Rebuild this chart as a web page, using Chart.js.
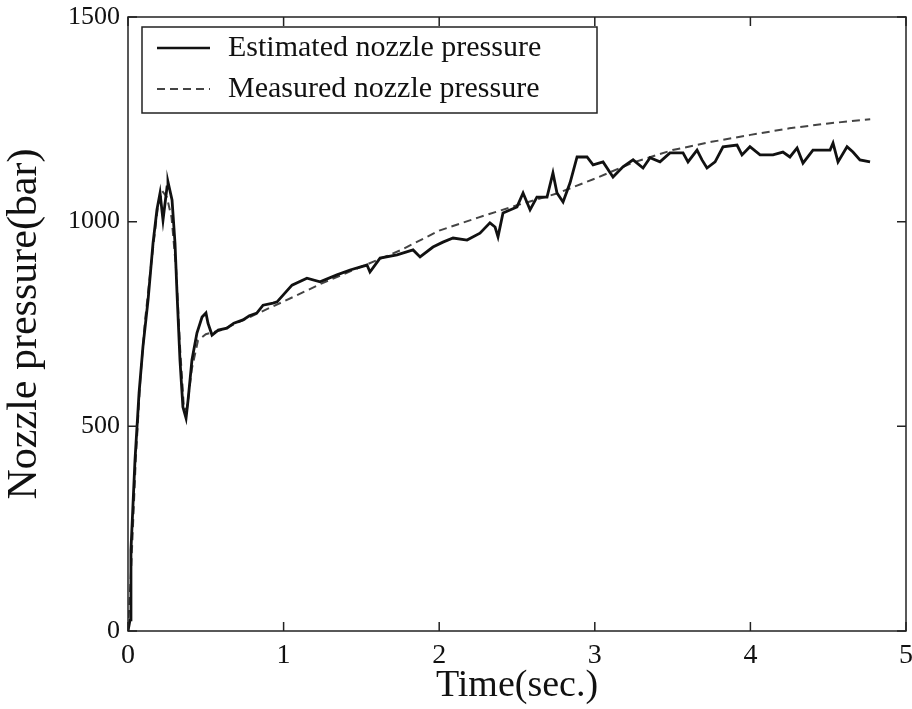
<!DOCTYPE html>
<html>
<head>
<meta charset="utf-8">
<script src="https://cdn.jsdelivr.net/npm/chart.js@4"></script>
<style>
  html, body { margin: 0; padding: 0; background: #fff; }
  #wrap { width: 912px; height: 709px; }
</style>
</head>
<body>
<div id="wrap"><canvas id="pressureChart" width="912" height="709"></canvas></div>
<script>
// estimated nozzle pressure (solid line)
var estTime = [0, 0.013, 0.019, 0.045, 0.071, 0.096, 0.129, 0.161, 0.186, 0.206, 0.225, 0.251, 0.257, 0.283,
  0.302, 0.315, 0.334, 0.353, 0.373, 0.386, 0.411, 0.443, 0.476, 0.501, 0.514, 0.540, 0.58, 0.636, 0.68, 0.739,
  0.78, 0.829, 0.868, 0.932, 0.958, 1.054, 1.150, 1.234, 1.343, 1.427, 1.536, 1.555, 1.620, 1.729, 1.832, 1.877, 1.960,
  2.024, 2.089, 2.179, 2.262, 2.326, 2.359, 2.378, 2.410, 2.500, 2.539, 2.584, 2.628, 2.693, 2.731, 2.757,
  2.796, 2.841, 2.886, 2.950, 2.989, 3.053, 3.117, 3.181, 3.246, 3.310, 3.355, 3.419, 3.483, 3.567, 3.599,
  3.657, 3.689, 3.721, 3.773, 3.824, 3.914, 3.946, 3.997, 4.062, 4.145, 4.209, 4.254, 4.300, 4.338, 4.402,
  4.512, 4.531, 4.563, 4.621, 4.659, 4.704, 4.769];
var estPressure = [0, 27, 198, 418, 581, 694, 809, 948, 1029, 1070, 1004, 1085, 1097, 1053,
  948, 826, 662, 547, 520, 564, 662, 728, 767, 777, 752, 723, 735, 740, 752, 760,
  770, 777, 796, 801, 804, 845, 862, 853, 870, 882, 894, 877, 911, 919, 931, 914, 938,
  950, 960, 955, 972, 997, 987, 963, 1021, 1036, 1070, 1029, 1060, 1060, 1119, 1070,
  1048, 1095, 1158, 1158, 1139, 1146, 1109, 1134, 1151, 1131, 1156, 1146, 1168, 1168, 1146,
  1175, 1151, 1131, 1146, 1183, 1187, 1163, 1183, 1163, 1163, 1170, 1158, 1180, 1143, 1175,
  1175, 1192, 1146, 1183, 1170, 1151, 1146];

// measured nozzle pressure (dashed line)
var measTime = [0, 0.02, 0.05, 0.08, 0.11, 0.15, 0.19, 0.22, 0.25, 0.28, 0.31, 0.335, 0.36, 0.38, 0.41,
  0.45, 0.5, 0.6, 0.8, 1.0, 1.25, 1.5, 1.75, 2.0, 2.25, 2.5, 2.75, 3.0, 3.25, 3.5, 3.75, 4.0, 4.25, 4.5, 4.77];
var measPressure = [0, 150, 420, 620, 760, 900, 1030, 1075, 1060, 1010, 880, 690, 540, 545, 640,
  710, 725, 735, 770, 805, 850, 890, 930, 978, 1010, 1040, 1068, 1105, 1145, 1175, 1195, 1212, 1228, 1240, 1250];

var legendLabels = ['Estimated nozzle pressure', 'Measured nozzle pressure'];

function toPoints(xs, ys) {
  return xs.map(function (x, i) { return { x: x, y: ys[i] }; });
}

var serif = 'Liberation Serif';

// frame, inward ticks on all four sides, and the boxed legend
var framePlugin = {
  id: 'frame',
  afterDatasetsDraw: function (chart) {
    var ctx = chart.ctx, a = chart.chartArea;
    var xs = chart.scales.x, ys = chart.scales.y;
    ctx.save();
    ctx.strokeStyle = '#222';
    ctx.lineWidth = 1.5;
    ctx.strokeRect(a.left, a.top, a.right - a.left, a.bottom - a.top);
    xs.ticks.forEach(function (t) {
      var px = xs.getPixelForValue(t.value);
      ctx.beginPath();
      ctx.moveTo(px, a.bottom); ctx.lineTo(px, a.bottom - 9);
      ctx.moveTo(px, a.top); ctx.lineTo(px, a.top + 9);
      ctx.stroke();
    });
    ys.ticks.forEach(function (t) {
      var py = ys.getPixelForValue(t.value);
      ctx.beginPath();
      ctx.moveTo(a.left, py); ctx.lineTo(a.left + 9, py);
      ctx.moveTo(a.right, py); ctx.lineTo(a.right - 9, py);
      ctx.stroke();
    });

    // legend box
    var bx = a.left + 14, by = a.top + 10, bw = 455, bh = 86;
    ctx.fillStyle = '#fff';
    ctx.fillRect(bx, by, bw, bh);
    ctx.lineWidth = 1.5;
    ctx.strokeRect(bx, by, bw, bh);
    ctx.font = '30px "' + serif + '"';
    ctx.textBaseline = 'middle';
    ctx.fillStyle = '#111';
    chart.data.datasets.forEach(function (ds, i) {
      var ly = by + 21 + i * 41;
      ctx.beginPath();
      ctx.strokeStyle = ds.borderColor;
      ctx.lineWidth = Math.min(ds.borderWidth, 2.5);
      ctx.setLineDash(ds.borderDash || []);
      ctx.moveTo(bx + 15, ly); ctx.lineTo(bx + 68, ly);
      ctx.stroke();
      ctx.setLineDash([]);
      ctx.fillText(legendLabels[i], bx + 86, ly);
    });
    ctx.restore();
  }
};

new Chart(document.getElementById('pressureChart'), {
  type: 'scatter',
  data: {
    datasets: [{
      label: legendLabels[0],
      data: toPoints(estTime, estPressure),
      showLine: true,
      borderColor: '#111',
      borderWidth: 2.8,
      pointRadius: 0,
      tension: 0
    }, {
      label: legendLabels[1],
      data: toPoints(measTime, measPressure),
      showLine: true,
      borderColor: '#444',
      borderWidth: 2,
      borderDash: [8, 5],
      pointRadius: 0,
      tension: 0
    }]
  },
  options: {
    responsive: false,
    animation: false,
    layout: { padding: { top: 17, right: 6, left: 0, bottom: 0 } },
    plugins: {
      legend: { display: false },
      tooltip: { enabled: false }
    },
    scales: {
      x: {
        type: 'linear',
        min: 0,
        max: 5,
        grid: { display: false },
        border: { display: false },
        ticks: {
          stepSize: 1,
          color: '#111',
          padding: 0,
          font: { family: serif, size: 28 }
        },
        title: {
          display: true,
          text: 'Time(sec.)',
          color: '#111',
          padding: { top: 0, bottom: 0 },
          font: { family: serif, size: 38 }
        },
        afterFit: function (s) {
          s.height = 78;
          s.paddingLeft = 0; s.paddingRight = 0;
        }
      },
      y: {
        min: 0,
        max: 1500,
        grid: { display: false },
        border: { display: false },
        ticks: {
          stepSize: 500,
          color: '#111',
          padding: 0,
          font: { family: serif, size: 26 },
          callback: function (v) { return String(v); }
        },
        title: {
          display: true,
          text: 'Nozzle pressure(bar)',
          color: '#111',
          padding: { top: 0, bottom: 4 },
          font: { family: serif, size: 42 }
        },
        afterFit: function (s) {
          s.width = 128;
          s.paddingTop = 0; s.paddingBottom = 0;
        }
      }
    }
  },
  plugins: [framePlugin]
});
</script>
</body>
</html>
